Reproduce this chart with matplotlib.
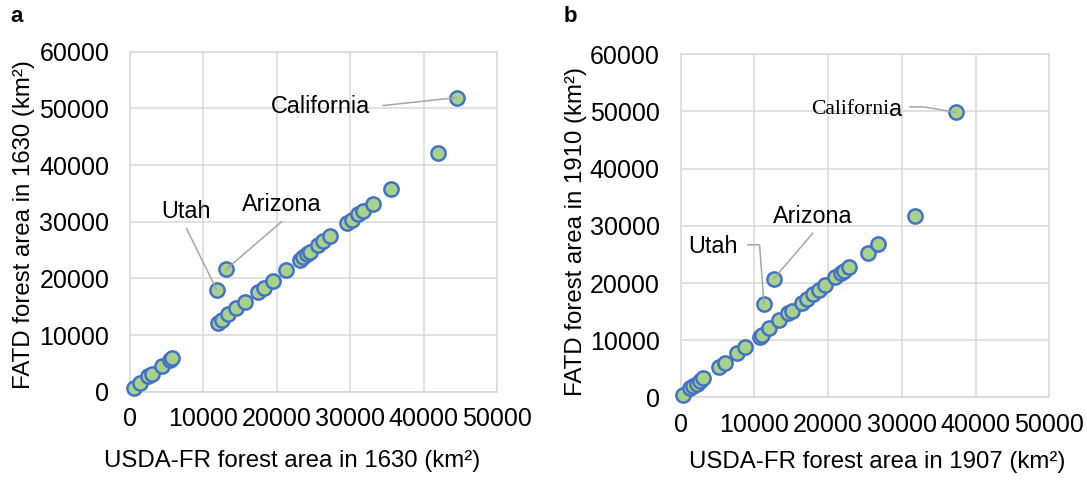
import numpy as np
import matplotlib.pyplot as plt

plt.rcParams['font.family'] = ['Liberation Sans', 'DejaVu Sans']

# panel a: USDA-FR 1630 vs FATD 1630 (km2)
a_x = [550, 1350, 2500, 2950, 4300, 5450, 5700, 11800, 13100, 12000, 12500, 13400,
       14500, 15700, 17500, 18200, 19450, 21300, 23150, 23600, 24100, 24500, 25600,
       26300, 27200, 29500, 30200, 31100, 31800, 33050, 35500, 41900, 44500]
a_y = [700, 1500, 2750, 3100, 4500, 5600, 5900, 18000, 21600, 12100, 12650, 13650,
       14700, 15800, 17650, 18250, 19500, 21500, 23300, 23800, 24300, 24700, 25900,
       26600, 27500, 29700, 30300, 31300, 31800, 33100, 35800, 42100, 51900]

# panel b: USDA-FR 1907 vs FATD 1910 (km2)
b_x = [250, 1260, 1700, 2200, 2600, 3070, 5200, 6000, 7700, 8700, 10700, 11000,
       12000, 13400, 14600, 15050, 16400, 17100, 18000, 18800, 19600, 20900, 21700,
       22200, 22800, 25400, 26750, 31800, 11300, 12600, 37300]
b_y = [400, 1600, 2000, 2360, 2800, 3350, 5300, 6100, 7700, 8800, 10600, 10900,
       12100, 13500, 14700, 15200, 16600, 17200, 18100, 18800, 19700, 21000, 21800,
       22200, 22900, 25300, 26800, 31700, 16350, 20700, 49850]

xticks = [0, 10000, 20000, 30000, 40000, 50000]
yticks = [0, 10000, 20000, 30000, 40000, 50000, 60000]

# labelled states: name -> (point x, point y)
a_states = {'California': (44500, 51900), 'Utah': (11800, 18000), 'Arizona': (13100, 21600)}
b_states = {'California': (37300, 49850), 'Utah': (11300, 16350), 'Arizona': (12600, 20700)}

face = '#A9D18E'
edge = '#4472C4'
gridc = '#D9D9D9'
leader = '#A6A6A6'
fs = 16.8

fig = plt.figure(figsize=(10.87, 4.8), dpi=100)
ax1 = fig.add_axes([0.1196, 0.184, 0.3376, 0.7083])
ax2 = fig.add_axes([0.6262, 0.1719, 0.3391, 0.715])


def style(ax, xlab, ylab, xl, yl):
    ax.set_xlim(0, 50000)
    ax.set_ylim(0, 60000)
    ax.set_xticks(xticks)
    ax.set_yticks(yticks)
    ax.grid(color=gridc, lw=1.1)
    ax.set_axisbelow(True)
    for s in ax.spines.values():
        s.set_color(gridc)
        s.set_linewidth(1.1)
    ax.tick_params(axis='both', length=0, labelsize=18)
    ax.tick_params(axis='x', pad=11)
    ax.tick_params(axis='y', pad=15)
    ax.set_xlabel(xlab, fontsize=17.3, va='center')
    ax.set_ylabel(ylab, fontsize=17.3, va='center')
    ax.xaxis.set_label_coords(xl[0], xl[1])
    ax.yaxis.set_label_coords(yl[0], yl[1])


ax1.scatter(a_x, a_y, s=105, c=face, edgecolors=edge, linewidths=1.8, zorder=3, clip_on=False)
ax2.scatter(b_x, b_y, s=105, c=face, edgecolors=edge, linewidths=1.8, zorder=3, clip_on=False)

style(ax1, 'USDA-FR forest area in 1630 (km²)', 'FATD forest area in 1630 (km²)',
      (0.443, -0.205), (-0.289, 0.493))
style(ax2, 'USDA-FR forest area in 1907 (km²)', 'FATD forest area in 1910 (km²)',
      (0.534, -0.189), (-0.284, 0.485))

# panel a labels and leader lines
px, py = a_states['California']
ax1.text(32700, 50400, 'California', fontsize=fs, ha='right', va='center')
ax1.plot([34500, px], [50500, py], color=leader, lw=1.1, zorder=4)
px, py = a_states['Utah']
ax1.text(7600, 31800, 'Utah', fontsize=fs, ha='center', va='center')
ax1.plot([7700, px], [28800, py], color=leader, lw=1.1, zorder=4)
px, py = a_states['Arizona']
ax1.text(20650, 33100, 'Arizona', fontsize=fs, ha='center', va='center')
ax1.plot([20650, px], [30000, py], color=leader, lw=1.1, zorder=4)

# panel b labels and leader lines
px, py = b_states['California']
ax2.text(28260, 50400, 'Californi', fontsize=15.6, ha='right', va='center',
         family=['Liberation Serif', 'DejaVu Serif'])
ax2.text(28260, 50400, 'a', fontsize=fs, ha='left', va='center')
ax2.plot([31100, 33000, px], [50800, 50800, py], color=leader, lw=1.1, zorder=4)
px, py = b_states['Utah']
ax2.text(4400, 26400, 'Utah', fontsize=fs, ha='center', va='center')
ax2.plot([9100, 10700, px], [26700, 26700, py], color=leader, lw=1.1, zorder=4)
px, py = b_states['Arizona']
ax2.text(17900, 31700, 'Arizona', fontsize=fs, ha='center', va='center')
ax2.plot([17900, px], [28700, py], color=leader, lw=1.1, zorder=4)

fig.text(10 / 1087, 1 - 17 / 480, 'a', fontsize=16, fontweight='bold', va='center')
fig.text(564 / 1087, 1 - 17 / 480, 'b', fontsize=16, fontweight='bold', va='center')

fig.savefig('out.png', dpi=100)
